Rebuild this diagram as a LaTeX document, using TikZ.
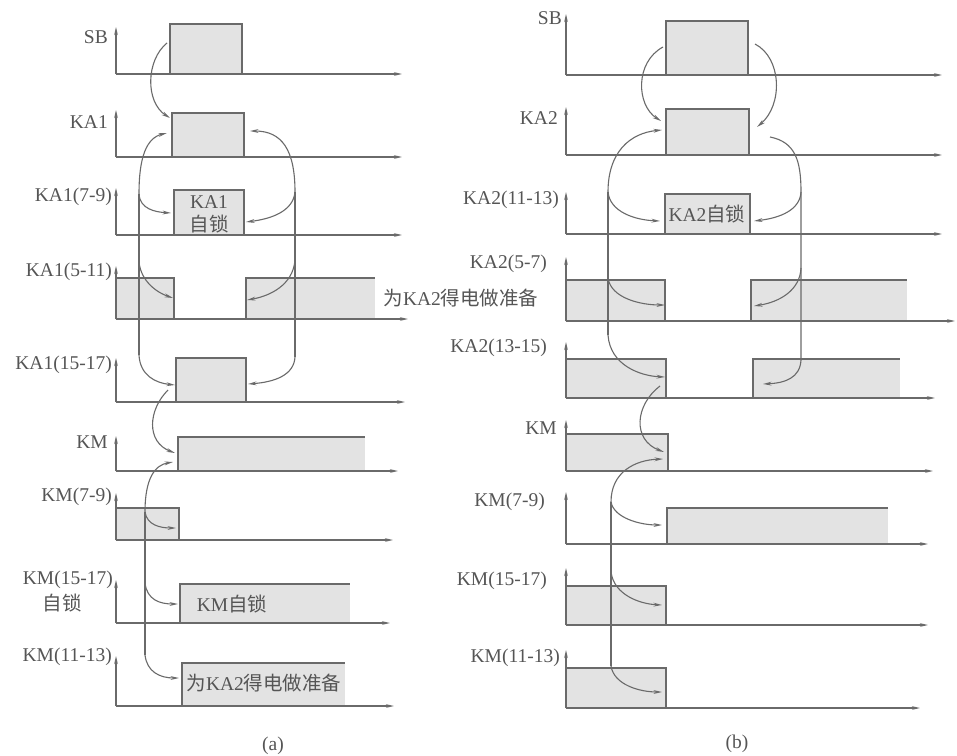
\documentclass[tikz,border=0pt]{standalone}
\usepackage{fontspec}
\setmainfont{Liberation Serif}
\newfontfamily\cjk{Noto Sans CJK SC}
\usetikzlibrary{arrows.meta}
\definecolor{ln}{HTML}{6A6A6A}
\definecolor{bx}{HTML}{E3E3E3}
\definecolor{tx}{HTML}{555555}
\newcommand\tdaxis[4]{\draw[axisln] (#1,#2) -- (#4,#2); \draw[axisln] (#1,#2) -- (#1,#3);}
\newcommand\tdbox[4]{\fill[bx] (#1,#3) rectangle (#2,#4); \draw[sig] (#1,#4) -- (#1,#3) -- (#2,#3) -- (#2,#4);}
\newcommand\tdopen[4]{\fill[bx] (#1,#3) rectangle (#2,#4); \draw[sig] (#1,#4) -- (#1,#3) -- (#2,#3);}
\begin{document}
\begin{tikzpicture}[x=1pt,y=-1pt,
  axisln/.style={draw=ln, line width=1.2pt, -{Stealth[length=8pt,width=3.6pt]}},
  sig/.style={draw=ln, line width=1.2pt},
  conn/.style={draw=ln, line width=1.1pt, -{Stealth[length=8.5pt,width=3.8pt]}},
  trunk/.style={draw=ln, line width=1.1pt},
  lab/.style={text=tx, font=\fontsize{19.5}{22}\selectfont, inner sep=0pt},
  labr/.style={lab, anchor=east}]
\fill[white] (0,0) rectangle (957,755);
\useasboundingbox (0,0) rectangle (957,755);

% ---------------- panel (a) ----------------
\tdbox{170}{242}{24}{74}
\tdbox{172}{244}{113}{157}
\tdbox{174}{244}{190}{235}
\tdbox{116}{174}{278}{319}
\tdopen{246}{375}{278}{319}
\tdbox{176}{246}{358}{402}
\tdopen{178}{365}{437}{471}
\tdbox{116}{179}{508}{540}
\tdopen{180}{350}{584}{623}
\tdopen{182}{345}{663}{706}

\tdaxis{116}{74}{27}{402}
\tdaxis{116}{157}{110}{402}
\tdaxis{116}{235}{188}{402}
\tdaxis{116}{319}{266}{408}
\tdaxis{116}{402}{358}{405}
\tdaxis{116}{471}{436}{398}
\tdaxis{116}{540}{493}{393}
\tdaxis{116}{623}{580}{390}
\tdaxis{116}{706}{656}{394}

\node[labr] (laSB) at (108,37) {SB};
\node[labr] (laKA) at (108,122) {KA1};
\node[labr] (laK79) at (112,197) {KA1(7-9)};
\node[labr] (laK511) at (112,272) {KA1(5-11)};
\node[labr] (laK1517) at (112,365) {KA1(15-17)};
\node[labr] (laKM) at (108,442) {KM};
\node[labr] (laM79) at (112,497) {KM(7-9)};
\node[labr] (laM1517) at (113,580) {KM(15-17)};
\node[lab] (laZS) at (62,603) {\cjk 自锁};
\node[labr] (laM1113) at (112,657) {KM(11-13)};
\node[lab] (taKA1) at (209,202) {KA1};
\node[lab] (taZS) at (209,224) {\cjk 自锁};
\node[lab] (taPrep) at (461,298) {{\cjk 为}KA2{\cjk 得电做准备}};
\node[lab] (taKMZS) at (232,604) {KM{\cjk 自锁}};
\node[lab] (taPrep2) at (264,683) {{\cjk 为}KA2{\cjk 得电做准备}};
\node[lab] (capa) at (273,746) {(a)};

% connectors (a)
\coordinate (aSBo) at (167,43);
\coordinate (aKAi) at (170,118);
\draw[conn] (aSBo) .. controls (146,60) and (145,102) .. (aKAi);

\coordinate (aLa) at (139,194);
\coordinate (aLb) at (139,262);
\coordinate (aLc) at (139,355);
\coordinate (aL1) at (167,133);
\coordinate (aL2) at (171,213);
\coordinate (aL3) at (173,298);
\coordinate (aL4) at (175,385);
\draw[trunk] (aLa) -- (aLc);
\draw[conn] (aLa) .. controls (139,158) and (146,138) .. (aL1);
\draw[conn] (aLa) .. controls (140,209) and (155,212) .. (aL2);
\draw[conn] (aLb) .. controls (141,282) and (158,293) .. (aL3);
\draw[conn] (aLc) .. controls (140,375) and (155,383) .. (aL4);

\coordinate (aRa) at (295,192);
\coordinate (aRb) at (295,260);
\coordinate (aRc) at (295,357);
\coordinate (aR1) at (250,131);
\coordinate (aR2) at (246,222);
\coordinate (aR3) at (247,300);
\coordinate (aR4) at (248,384);
\draw[trunk] (aRa) -- (aRc);
\draw[conn] (aRa) .. controls (295,150) and (282,131) .. (aR1);
\draw[conn] (aRa) .. controls (293,212) and (270,219) .. (aR2);
\draw[conn] (aRb) .. controls (293,285) and (270,296) .. (aR3);
\draw[conn] (aRc) .. controls (294,375) and (275,382) .. (aR4);

\coordinate (aC3s) at (168,390);
\coordinate (aKMi) at (175,453);
\draw[conn] (aC3s) .. controls (148,410) and (146,442) .. (aKMi);

\coordinate (aMa) at (145,512);
\coordinate (aMc) at (145,583);
\coordinate (aMd) at (145,655);
\coordinate (aM0) at (173,462);
\coordinate (aM1) at (176,528);
\coordinate (aM2) at (178,604);
\coordinate (aM3) at (179,678);
\draw[trunk] (aMa) -- (aMd);
\draw[conn] (aMa) .. controls (145,478) and (155,465) .. (aM0);
\draw[conn] (aMa) .. controls (147,525) and (160,528) .. (aM1);
\draw[conn] (aMc) .. controls (147,600) and (160,604) .. (aM2);
\draw[conn] (aMd) .. controls (147,672) and (160,678) .. (aM3);

% ---------------- panel (b) ----------------
\tdbox{666}{748}{21}{75}
\tdbox{666}{749}{109}{155}
\tdbox{665}{750}{194}{234}
\tdbox{566}{665}{280}{321}
\tdopen{751}{907}{280}{321}
\tdbox{566}{666}{359}{398}
\tdopen{753}{900}{359}{398}
\tdbox{566}{668}{434}{471}
\tdopen{667}{888}{508}{544}
\tdbox{566}{666}{586}{625}
\tdbox{566}{666}{668}{708}

\tdaxis{566}{75}{14}{942}
\tdaxis{566}{155}{107}{942}
\tdaxis{566}{234}{192}{942}
\tdaxis{566}{321}{257}{955}
\tdaxis{566}{398}{342}{935}
\tdaxis{566}{471}{420}{933}
\tdaxis{566}{544}{492}{928}
\tdaxis{566}{625}{568}{928}
\tdaxis{566}{708}{650}{920}

\node[labr] (lbSB) at (562,18) {SB};
\node[labr] (lbKA) at (558,118) {KA2};
\node[labr] (lbK1113) at (559,200) {KA2(11-13)};
\node[labr] (lbK57) at (547,264) {KA2(5-7)};
\node[labr] (lbK1315) at (547,348) {KA2(13-15)};
\node[labr] (lbKM) at (557,428) {KM};
\node[labr] (lbM79) at (545,502) {KM(7-9)};
\node[labr] (lbM1517) at (547,581) {KM(15-17)};
\node[labr] (lbM1113) at (560,658) {KM(11-13)};
\node[lab] (tbZS) at (707,214) {KA2{\cjk 自锁}};
\node[lab] (capb) at (737,744) {(b)};

% connectors (b)
\coordinate (bSBl) at (663,47);
\coordinate (bKAl) at (661,121);
\coordinate (bSBr) at (755,44);
\coordinate (bKAr) at (757,127);
\draw[conn] (bSBl) .. controls (635,62) and (636,105) .. (bKAl);
\draw[conn] (bSBr) .. controls (782,58) and (783,105) .. (bKAr);

\coordinate (bLa) at (608,192);
\coordinate (bLb) at (608,278);
\coordinate (bLc) at (608,335);
\coordinate (bL1) at (662,130);
\coordinate (bL2) at (660,221);
\coordinate (bL3) at (665,305);
\coordinate (bL4) at (665,377);
\draw[trunk] (bLa) -- (bLc);
\draw[conn] (bLa) .. controls (608,152) and (630,133) .. (bL1);
\draw[conn] (bLa) .. controls (610,212) and (635,220) .. (bL2);
\draw[conn] (bLb) .. controls (611,298) and (640,305) .. (bL3);
\draw[conn] (bLc) .. controls (610,365) and (640,376) .. (bL4);

\coordinate (bR0) at (770,137);
\coordinate (bRa) at (801,192);
\coordinate (bRb) at (801,268);
\coordinate (bRc) at (801,360);
\coordinate (bR2) at (754,221);
\coordinate (bR3) at (754,306);
\coordinate (bR4) at (763,384);
\draw[trunk] (bR0) .. controls (795,142) and (801,160) .. (bRa) -- (bRc);
\draw[conn] (bRa) .. controls (800,210) and (780,218) .. (bR2);
\draw[conn] (bRb) .. controls (800,290) and (780,302) .. (bR3);
\draw[conn] (bRc) .. controls (800,378) and (785,383) .. (bR4);

\coordinate (bC3s) at (660,386);
\coordinate (bKMi) at (664,452);
\draw[conn] (bC3s) .. controls (635,405) and (632,440) .. (bKMi);

\coordinate (bMa) at (611,502);
\coordinate (bMb) at (611,572);
\coordinate (bMc) at (611,666);
\coordinate (bM0) at (663,459);
\coordinate (bM1) at (662,525);
\coordinate (bM2) at (662,605);
\coordinate (bM3) at (662,692);
\draw[trunk] (bMa) -- (bMc);
\draw[conn] (bMa) .. controls (611,472) and (635,460) .. (bM0);
\draw[conn] (bMa) .. controls (614,518) and (640,525) .. (bM1);
\draw[conn] (bMb) .. controls (614,595) and (640,604) .. (bM2);
\draw[conn] (bMc) .. controls (614,685) and (640,692) .. (bM3);
\end{tikzpicture}
\end{document}
